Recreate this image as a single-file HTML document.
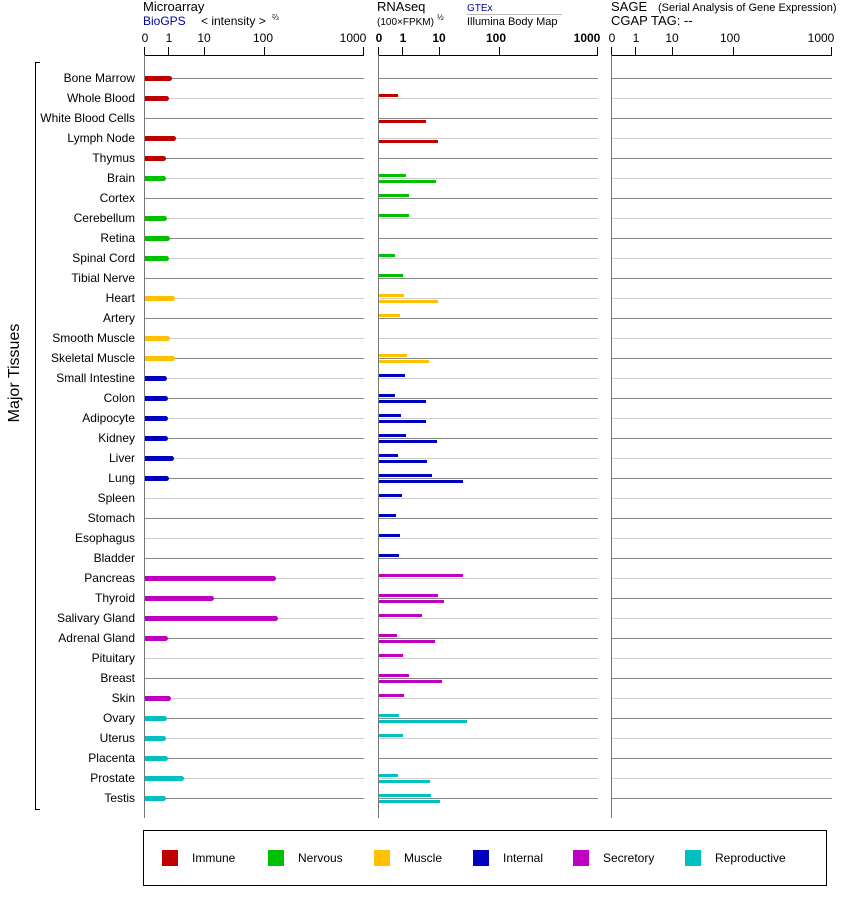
<!DOCTYPE html>
<html><head><meta charset="utf-8"><style>
body{margin:0;background:#fff;}
svg text{font-family:"Liberation Sans",Arial,sans-serif;}
</style></head><body>
<svg width="842" height="900" xmlns="http://www.w3.org/2000/svg">
<rect width="842" height="900" fill="#fff"/>
<!-- headers -->
<text x="143" y="11" font-size="13">Microarray</text>
<text x="143" y="25" font-size="12" fill="#00009c">BioGPS</text>
<text x="201" y="25" font-size="12">&lt; intensity &gt;</text>
<text x="272" y="20" font-size="8">⅔</text>
<text x="377" y="11" font-size="13">RNAseq</text>
<text x="377" y="25" font-size="10">(100×FPKM)</text>
<text x="437" y="20" font-size="8">½</text>
<text x="467" y="11" font-size="10" fill="#00009c">GTEx</text>
<line x1="467" y1="14.5" x2="562" y2="14.5" stroke="#bbb"/>
<text x="467" y="25" font-size="11">Illumina Body Map</text>
<text x="611" y="11" font-size="13">SAGE</text>
<text x="658" y="11" font-size="11">(Serial Analysis of Gene Expression)</text>
<text x="611" y="25" font-size="13">CGAP TAG:  --</text>
<g id="axes" font-size="12" text-anchor="middle" stroke-linecap="butt">
<g>
<line x1="144" y1="55.5" x2="364" y2="55.5" stroke="#000"/>
<line x1="144.5" y1="47" x2="144.5" y2="56" stroke="#000"/><line x1="168.5" y1="47" x2="168.5" y2="56" stroke="#000"/><line x1="204.5" y1="47" x2="204.5" y2="56" stroke="#000"/><line x1="264.5" y1="47" x2="264.5" y2="56" stroke="#000"/><line x1="363.5" y1="47" x2="363.5" y2="56" stroke="#000"/>
<text x="145" y="42">0</text><text x="169" y="42">1</text><text x="204" y="42">10</text><text x="263" y="42">100</text><text x="353" y="42">1000</text>
</g>
<g font-weight="bold">
<line x1="378" y1="55.5" x2="598" y2="55.5" stroke="#000"/>
<line x1="378.5" y1="47" x2="378.5" y2="56" stroke="#000"/><line x1="402.5" y1="47" x2="402.5" y2="56" stroke="#000"/><line x1="439.5" y1="47" x2="439.5" y2="56" stroke="#000"/><line x1="499.5" y1="47" x2="499.5" y2="56" stroke="#000"/><line x1="597.5" y1="47" x2="597.5" y2="56" stroke="#000"/>
<text x="379" y="42">0</text><text x="403" y="42">1</text><text x="439" y="42">10</text><text x="496" y="42">100</text><text x="587" y="42">1000</text>
</g>
<g>
<line x1="611" y1="55.5" x2="832" y2="55.5" stroke="#000"/>
<line x1="611.5" y1="47" x2="611.5" y2="56" stroke="#000"/><line x1="635.5" y1="47" x2="635.5" y2="56" stroke="#000"/><line x1="672.5" y1="47" x2="672.5" y2="56" stroke="#000"/><line x1="733.5" y1="47" x2="733.5" y2="56" stroke="#000"/><line x1="831.5" y1="47" x2="831.5" y2="56" stroke="#000"/>
<text x="612" y="42">0</text><text x="636" y="42">1</text><text x="672" y="42">10</text><text x="730" y="42">100</text><text x="821" y="42">1000</text>
</g>
</g>
<g id="rows"></g>
<line x1="144.5" y1="55" x2="144.5" y2="818" stroke="#777"/>
<line x1="378.5" y1="55" x2="378.5" y2="818" stroke="#777"/>
<line x1="611.5" y1="55" x2="611.5" y2="818" stroke="#777"/>
<!-- bracket -->
<line x1="35.5" y1="62" x2="35.5" y2="810" stroke="#000"/>
<line x1="35" y1="62.5" x2="40" y2="62.5" stroke="#000"/>
<line x1="35" y1="809.5" x2="40" y2="809.5" stroke="#000"/>
<text transform="translate(19,373) rotate(-90)" font-size="16" text-anchor="middle">Major Tissues</text>
<!-- legend -->
<rect x="143.5" y="830.5" width="683" height="55" fill="none" stroke="#000"/>
<g font-size="12">
<rect x="162" y="850" width="16" height="16" fill="#c00000"/><text x="192" y="862">Immune</text>
<rect x="268" y="850" width="16" height="16" fill="#00c000"/><text x="298" y="862">Nervous</text>
<rect x="374" y="850" width="16" height="16" fill="#ffc000"/><text x="404" y="862">Muscle</text>
<rect x="473" y="850" width="16" height="16" fill="#0000c0"/><text x="503" y="862">Internal</text>
<rect x="573" y="850" width="16" height="16" fill="#c000c0"/><text x="603" y="862">Secretory</text>
<rect x="685" y="850" width="16" height="16" fill="#00c0c0"/><text x="715" y="862">Reproductive</text>
</g>
</svg>
<script>
var C={I:"#c00000",N:"#00c000",M:"#ffc000",T:"#0000c0",S:"#c000c0",R:"#00c0c0"};
var d=[
["Bone Marrow","I",172,0,0],["Whole Blood","I",169,398,0],["White Blood Cells","I",0,0,426],["Lymph Node","I",176,0,438],["Thymus","I",166,0,0],
["Brain","N",166,406,436],["Cortex","N",0,409,0],["Cerebellum","N",167,409,0],["Retina","N",170,0,0],["Spinal Cord","N",169,395,0],["Tibial Nerve","N",0,403,0],
["Heart","M",175,404,438],["Artery","M",0,400,0],["Smooth Muscle","M",170,0,0],["Skeletal Muscle","M",175,407,429],
["Small Intestine","T",167,405,0],["Colon","T",168,395,426],["Adipocyte","T",168,401,426],["Kidney","T",168,406,437],["Liver","T",174,398,427],["Lung","T",169,432,463],["Spleen","T",0,402,0],["Stomach","T",0,396,0],["Esophagus","T",0,400,0],["Bladder","T",0,399,0],
["Pancreas","S",276,463,0],["Thyroid","S",214,438,444],["Salivary Gland","S",278,422,0],["Adrenal Gland","S",168,397,435],["Pituitary","S",0,403,0],["Breast","S",0,409,442],["Skin","S",171,404,0],
["Ovary","R",167,399,467],["Uterus","R",166,403,0],["Placenta","R",168,0,0],["Prostate","R",184,398,430],["Testis","R",166,431,440]];
var s="";
d.forEach(function(r,i){var y=78+20*i,c=C[r[1]],lc=i%2?"#ccc":"#888";
[[144,364],[378,598],[611,832]].forEach(function(p){s+='<line x1="'+p[0]+'" y1="'+(y+.5)+'" x2="'+p[1]+'" y2="'+(y+.5)+'" stroke="'+lc+'"/>';});
s+='<text x="135" y="'+(y+4)+'" font-size="12" text-anchor="end">'+r[0]+'</text>';
if(r[2]){s+='<rect x="144" y="'+(y-2)+'" width="'+(r[2]-146)+'" height="5" fill="'+c+'"/><circle cx="'+(r[2]-2.5)+'" cy="'+(y+.5)+'" r="2.5" fill="'+c+'"/>';}
if(r[3])s+='<rect x="378" y="'+(y-4)+'" width="'+(r[3]-378)+'" height="3" fill="'+c+'"/>';
if(r[4])s+='<rect x="378" y="'+(y+2)+'" width="'+(r[4]-378)+'" height="3" fill="'+c+'"/>';
});
document.getElementById("rows").innerHTML=s;
</script>
</body></html>
